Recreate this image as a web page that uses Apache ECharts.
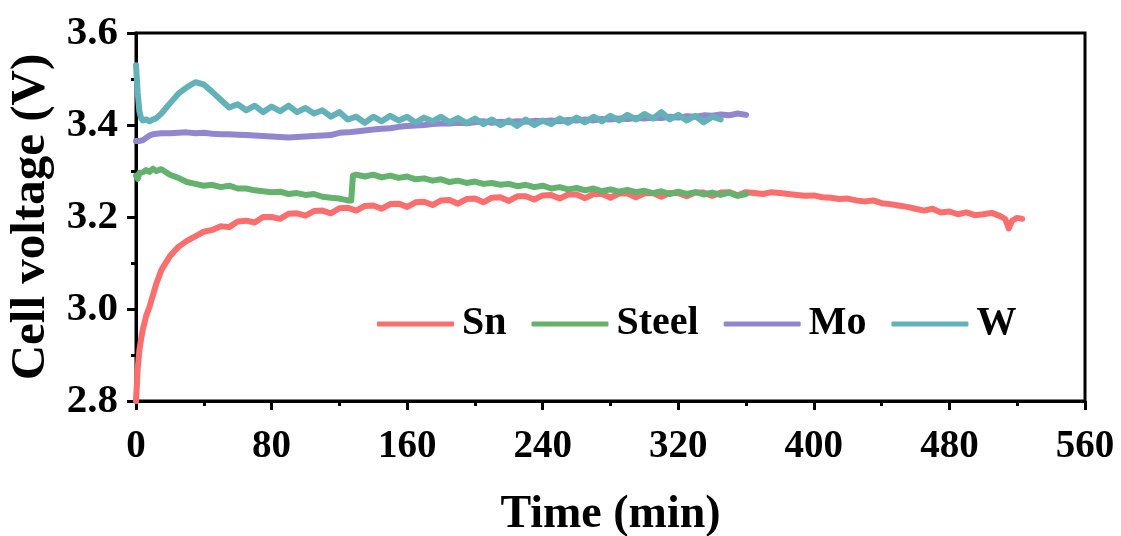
<!DOCTYPE html>
<html>
<head>
<meta charset="utf-8">
<script src="https://cdn.jsdelivr.net/npm/echarts@6/dist/echarts.min.js"></script>
<style>
  html, body { margin: 0; padding: 0; background: #fff; }
  #test { width: 1121px; height: 536px; }
</style>
</head>
<body>
<div id="test"></div>
<script>
// time (min) and cell voltage (V)
var snTime = [0, 1, 2, 3, 4, 6, 8, 10, 12, 15,
  20, 25, 30, 35, 40, 45, 50, 55, 60, 65, 70, 75, 80, 85, 90, 95, 100,
  105, 110, 115, 120, 125, 130, 135, 140, 145, 150, 155, 160, 165, 170, 175, 180,
  185, 190, 195, 200, 205, 210, 215, 220, 225, 230, 235, 240, 245, 250, 255, 260,
  265, 270, 275, 280, 285, 290, 295, 300, 305, 310, 315, 320, 325, 330, 335, 340,
  345, 350, 355, 360, 365, 370, 375, 380, 385, 390, 395, 400, 405, 410, 415, 420,
  425, 430, 435, 440, 445, 450, 455, 460, 465, 470, 475, 480, 485, 490, 495, 500,
  505, 510, 513, 515, 517, 520, 523];
var snVolt = [2.80, 2.87, 2.91, 2.935, 2.955, 2.985, 3.005, 3.03, 3.055, 3.085,
  3.115, 3.135, 3.148, 3.158, 3.168, 3.172, 3.180, 3.178, 3.190, 3.192, 3.188, 3.200, 3.200, 3.196, 3.207, 3.208, 3.203,
  3.213, 3.214, 3.208, 3.219, 3.220, 3.214, 3.224, 3.225, 3.218, 3.228, 3.229, 3.222, 3.232, 3.233, 3.226, 3.236,
  3.237, 3.229, 3.239, 3.240, 3.232, 3.242, 3.243, 3.235, 3.245, 3.245, 3.238, 3.247, 3.248, 3.240, 3.249, 3.249,
  3.241, 3.250, 3.250, 3.242, 3.251, 3.251, 3.243, 3.251, 3.252, 3.244, 3.252, 3.252, 3.245, 3.253, 3.253, 3.246,
  3.253, 3.254, 3.247, 3.254, 3.252, 3.250, 3.254, 3.252, 3.250, 3.248, 3.246, 3.247, 3.243, 3.242, 3.239, 3.240,
  3.236, 3.234, 3.236, 3.230, 3.228, 3.225, 3.222, 3.218, 3.214, 3.218, 3.210, 3.212, 3.206, 3.210, 3.204, 3.206,
  3.209, 3.202, 3.195, 3.175, 3.192, 3.198, 3.196];

var steelTime = [0, 1, 2, 3, 4, 6, 8, 10, 12, 15,
  20, 25, 30, 35, 40, 45, 50, 55, 60, 65, 70, 75, 80, 85, 90, 95, 100,
  105, 110, 115, 120, 125, 127, 128, 130, 135, 140, 145, 150, 155, 160, 165, 170, 175, 180,
  185, 190, 195, 200, 205, 210, 215, 220, 225, 230, 235, 240, 245, 250, 255, 260,
  265, 270, 275, 280, 285, 290, 295, 300, 305, 310, 315, 320, 325, 330, 335, 340,
  345, 350, 355, 360];
var steelVolt = [3.290, 3.283, 3.296, 3.300, 3.297, 3.302, 3.298, 3.305, 3.300, 3.304,
  3.292, 3.285, 3.276, 3.272, 3.268, 3.270, 3.265, 3.268, 3.262, 3.262, 3.258, 3.256, 3.254, 3.255, 3.250, 3.252, 3.248,
  3.250, 3.244, 3.242, 3.240, 3.236, 3.236, 3.290, 3.292, 3.288, 3.292, 3.286, 3.290, 3.285, 3.288, 3.282, 3.284, 3.279, 3.282,
  3.276, 3.279, 3.274, 3.277, 3.272, 3.274, 3.270, 3.272, 3.267, 3.270, 3.265, 3.268, 3.262, 3.265, 3.260, 3.263,
  3.258, 3.262, 3.256, 3.260, 3.255, 3.259, 3.254, 3.257, 3.252, 3.256, 3.250, 3.255, 3.250, 3.254, 3.249, 3.253,
  3.248, 3.253, 3.246, 3.250];

var moTime = [0, 1, 2, 3, 4, 6, 8, 10, 12, 15,
  20, 25, 30, 35, 40, 45, 50, 55, 60, 65, 70, 75, 80, 85, 90, 95, 100,
  105, 110, 115, 120, 125, 130, 135, 140, 145, 150, 155, 160, 165, 170, 175, 180,
  185, 190, 195, 200, 205, 210, 215, 220, 225, 230, 235, 240, 245, 250, 255, 260,
  265, 270, 275, 280, 285, 290, 295, 300, 305, 310, 315, 320, 325, 330, 335, 340,
  345, 350, 355, 360];
var moVolt = [3.365, 3.364, 3.365, 3.366, 3.367, 3.372, 3.377, 3.380, 3.381, 3.382,
  3.382, 3.383, 3.384, 3.382, 3.383, 3.381, 3.380, 3.380, 3.379, 3.378, 3.377, 3.376, 3.375, 3.374, 3.373, 3.374, 3.375,
  3.376, 3.377, 3.378, 3.383, 3.384, 3.386, 3.388, 3.390, 3.392, 3.393, 3.396, 3.398, 3.399, 3.400, 3.402, 3.403,
  3.403, 3.405, 3.404, 3.406, 3.408, 3.405, 3.407, 3.406, 3.408, 3.407, 3.409, 3.408, 3.410, 3.408, 3.411, 3.410,
  3.412, 3.410, 3.413, 3.412, 3.414, 3.413, 3.415, 3.414, 3.416, 3.415, 3.418, 3.416, 3.419, 3.418, 3.421, 3.420,
  3.423, 3.421, 3.425, 3.422];

var wTime = [0, 1, 2, 3, 4, 6, 8, 10, 12, 15,
  20, 25, 30, 35, 40, 45, 50, 55, 60, 65, 70, 75, 80, 85, 90, 95, 100,
  105, 110, 115, 120, 125, 130, 135, 140, 145, 150, 155, 160, 165, 170, 175, 180,
  185, 190, 195, 200, 205, 210, 215, 220, 225, 230, 235, 240, 245, 250, 255, 260,
  265, 270, 275, 280, 285, 290, 295, 300, 305, 310, 315, 320, 325, 330, 335, 340,
  345];
var wVolt = [3.530, 3.470, 3.430, 3.415, 3.410, 3.412, 3.408, 3.412, 3.415, 3.425,
  3.447, 3.468, 3.482, 3.493, 3.488, 3.472, 3.455, 3.438, 3.445, 3.432, 3.442, 3.428, 3.440, 3.430, 3.442, 3.428, 3.437,
  3.425, 3.432, 3.418, 3.428, 3.412, 3.418, 3.405, 3.418, 3.408, 3.420, 3.410, 3.418, 3.405, 3.416, 3.408, 3.418,
  3.406, 3.415, 3.404, 3.414, 3.402, 3.412, 3.400, 3.410, 3.398, 3.412, 3.400, 3.410, 3.402, 3.414, 3.405, 3.416,
  3.406, 3.418, 3.408, 3.420, 3.410, 3.422, 3.412, 3.424, 3.414, 3.428, 3.412, 3.422, 3.410, 3.420, 3.406, 3.418,
  3.412];

var seriesNames = ["Sn", "Steel", "Mo", "W"];
var seriesColors = ["#fa6e6e", "#64b26e", "#9286ce", "#63b2b9"];
var xTicks = { min: 0, max: 560, step: 80 };
var yTicks = { min: 2.8, max: 3.6, step: 0.2 };

var font = '"Liberation Serif", "Times New Roman", serif';

function pairs(t, v) {
  var out = [];
  for (var i = 0; i < t.length; i++) {
    out.push([t[i], v[i]]);
  }
  return out;
}

var allData = [
  pairs(snTime, snVolt),
  pairs(steelTime, steelVolt),
  pairs(moTime, moVolt),
  pairs(wTime, wVolt)
];

var series = [];
var legendData = [];
for (var k = 0; k < seriesNames.length; k++) {
  series.push({
    name: seriesNames[k],
    type: "line",
    data: allData[k],
    symbol: "none",
    showSymbol: false,
    color: seriesColors[k],
    lineStyle: { width: 6, color: seriesColors[k], join: "round", cap: "round" }
  });
  // plain bar icon, no point marker
  legendData.push({ name: seriesNames[k], icon: "roundRect" });
}

var option = {
  animation: false,
  backgroundColor: "#fff",
  grid: {
    left: 136,
    right: 36,
    top: 33,
    bottom: 135,
    show: true,
    borderColor: "#000",
    borderWidth: 3,
    containLabel: false,
    outerBoundsMode: "none"
  },
  legend: {
    left: 377,
    top: 304,
    padding: 0,
    itemWidth: 77,
    itemHeight: 5,
    itemGap: 25,
    textStyle: {
      fontFamily: font,
      fontWeight: "bold",
      fontSize: 40,
      color: "#000",
      padding: [0, 0, 0, 3]
    },
    data: legendData
  },
  xAxis: {
    type: "value",
    min: xTicks.min,
    max: xTicks.max,
    interval: xTicks.step,
    name: "Time (min)",
    nameLocation: "middle",
    nameGap: 91,
    nameTextStyle: { fontFamily: font, fontWeight: "bold", fontSize: 46, color: "#000" },
    axisLine: { show: true, lineStyle: { color: "#000", width: 3 } },
    axisTick: { show: true, length: 9, lineStyle: { color: "#000", width: 3 } },
    minorTick: { show: true, splitNumber: 2, length: 5, lineStyle: { color: "#000", width: 3 } },
    axisLabel: { fontFamily: font, fontWeight: "bold", fontSize: 39, color: "#000", margin: 26 },
    splitLine: { show: false }
  },
  yAxis: {
    type: "value",
    min: yTicks.min,
    max: yTicks.max,
    interval: yTicks.step,
    name: "Cell voltage (V)",
    nameLocation: "middle",
    nameGap: 80,
    nameTextStyle: { fontFamily: font, fontWeight: "bold", fontSize: 49, color: "#000" },
    axisLine: { show: true, lineStyle: { color: "#000", width: 3 } },
    axisTick: { show: true, length: 9, lineStyle: { color: "#000", width: 3 } },
    minorTick: { show: true, splitNumber: 2, length: 5, lineStyle: { color: "#000", width: 3 } },
    axisLabel: {
      fontFamily: font,
      fontWeight: "bold",
      fontSize: 41,
      color: "#000",
      margin: 18,
      formatter: function (v) { return v.toFixed(1); }
    },
    splitLine: { show: false }
  },
  series: series
};

var myChart = echarts.init(document.getElementById("test"));
myChart.setOption(option);
</script>
</body>
</html>
